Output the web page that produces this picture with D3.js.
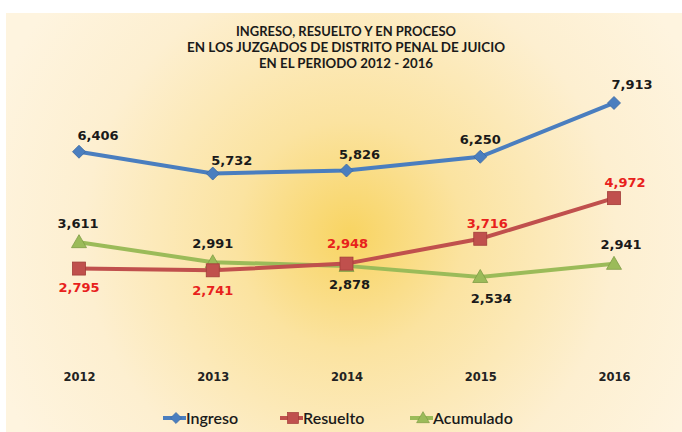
<!DOCTYPE html>
<html>
<head>
<meta charset="utf-8">
<script src="https://cdn.jsdelivr.net/npm/d3@7"></script>
<style>
  body { margin: 0; background: #fff; }
  svg { display: block; }
</style>
</head>
<body>
<div id="chart"></div>
<script>
var years = ["2012", "2013", "2014", "2015", "2016"];
var ingreso = [6406, 5732, 5826, 6250, 7913];
var resuelto = [2795, 2741, 2948, 3716, 4972];
var acumulado = [3611, 2991, 2878, 2534, 2941];
var titleLines = [
  "INGRESO, RESUELTO Y EN PROCESO",
  "EN LOS JUZGADOS DE DISTRITO PENAL DE JUICIO",
  "EN EL PERIODO 2012 - 2016"
];

// label placement, relative to each point
var ingresoOff = [[19, -16], [19, -13], [13, -16], [0, -17], [18, -19]];
var resueltoOff = [[0, 19], [0, 20], [1, -20], [7, -15], [11, -16]];
var acumuladoOff = [[-1, -19], [0, -19], [3, 19], [11, 21], [7, -19]];

var width = 682, height = 432;

var svg = d3.select("#chart").append("svg")
    .attr("width", width)
    .attr("height", height);

var defs = svg.append("defs");
var grad = defs.append("radialGradient")
    .attr("id", "bg")
    .attr("gradientUnits", "userSpaceOnUse")
    .attr("cx", 350).attr("cy", 235).attr("r", 380);
grad.append("stop").attr("offset", "0%").attr("stop-color", "#f8d462");
grad.append("stop").attr("offset", "30%").attr("stop-color", "#fbe3a0");
grad.append("stop").attr("offset", "70%").attr("stop-color", "#fdefd0");
grad.append("stop").attr("offset", "100%").attr("stop-color", "#fef4df");

svg.append("rect")
    .attr("x", 6).attr("y", 13)
    .attr("width", width - 6).attr("height", height - 13)
    .attr("fill", "url(#bg)");

svg.append("g").selectAll("text")
    .data(titleLines)
  .enter().append("text")
    .attr("x", 346)
    .attr("y", function(d, i) { return 36 + i * 16; })
    .attr("text-anchor", "middle")
    .attr("font-family", "Lato, 'Open Sans', sans-serif")
    .attr("font-weight", "bold")
    .attr("font-size", 12.5)
    .attr("fill", "#1a1a1a")
    .attr("textLength", function(d, i) { return [220, 318, 174][i]; })
    .attr("lengthAdjust", "spacingAndGlyphs")
    .text(function(d) { return d; });

var x = d3.scalePoint()
    .domain(years)
    .range([79, 614]);

var y = d3.scaleLinear()
    .domain([0, 9000])
    .range([359, 67.8]);

var xAxis = svg.append("g")
    .attr("transform", "translate(0,381)")
    .call(d3.axisBottom(x).tickSize(0).tickPadding(0));
xAxis.select(".domain").remove();
xAxis.selectAll("text")
    .attr("font-family", "'DejaVu Sans', Verdana, sans-serif")
    .attr("font-weight", "bold")
    .attr("font-size", 11.5)
    .attr("fill", "#222")
    .attr("dy", 0);

var series = [
  { name: "Ingreso", values: ingreso, off: ingresoOff, color: "#4a7ebf", labelColor: "#1a1a1a", shape: "diamond" },
  { name: "Resuelto", values: resuelto, off: resueltoOff, color: "#c0504d", labelColor: "#e8211c", shape: "square" },
  { name: "Acumulado", values: acumulado, off: acumuladoOff, color: "#9bbb59", labelColor: "#1a1a1a", shape: "triangle" }
];

var line = d3.line()
    .x(function(d, i) { return x(years[i]); })
    .y(function(d) { return y(d); });

function marker(sel, s) {
  if (s.shape === "diamond") {
    sel.append("path")
      .attr("d", "M0,-6.5L6.5,0L0,6.5L-6.5,0Z")
      .attr("fill", s.color).attr("stroke", "#3a68a3").attr("stroke-width", 0.8);
  } else if (s.shape === "square") {
    sel.append("rect")
      .attr("x", -6.5).attr("y", -6.5).attr("width", 13).attr("height", 13)
      .attr("fill", s.color).attr("stroke", "#a23c39").attr("stroke-width", 0.8);
  } else {
    sel.append("path")
      .attr("d", "M0,-7.5L7.5,5.5L-7.5,5.5Z")
      .attr("fill", s.color).attr("stroke", "#7f9c45").attr("stroke-width", 0.8);
  }
}

// draw order: acumulado under resuelto at crossing, ingreso on top
[series[2], series[1], series[0]].forEach(function(s) {
  var g = svg.append("g");
  g.append("path")
      .datum(s.values)
      .attr("d", line)
      .attr("fill", "none")
      .attr("stroke", s.color)
      .attr("stroke-width", 4);

  g.selectAll(".pt")
      .data(s.values)
    .enter().append("g")
      .attr("class", "pt")
      .attr("transform", function(d, i) { return "translate(" + x(years[i]) + "," + y(d) + ")"; })
      .each(function() { marker(d3.select(this), s); });
});

series.forEach(function(s) {
  svg.append("g").selectAll("text")
      .data(s.values)
    .enter().append("text")
      .attr("x", function(d, i) { return x(years[i]) + s.off[i][0]; })
      .attr("y", function(d, i) { return y(d) + s.off[i][1]; })
      .attr("dy", "0.35em")
      .attr("text-anchor", "middle")
      .attr("font-family", "'DejaVu Sans', Verdana, sans-serif")
      .attr("font-weight", "bold")
      .attr("font-size", 13)
      .attr("fill", s.labelColor)
      .text(function(d) { return d3.format(",")(d); });
});

// legend
var legendX = [163, 280, 410];
var legend = svg.append("g").selectAll("g")
    .data(series)
  .enter().append("g")
    .attr("transform", function(d, i) { return "translate(" + legendX[i] + ",418)"; });

legend.append("line")
    .attr("x1", 0).attr("x2", 23)
    .attr("stroke", function(d) { return d.color; })
    .attr("stroke-width", 4);

legend.append("g")
    .attr("transform", "translate(13,0) scale(0.85)")
    .each(function(d) { marker(d3.select(this), d); });

legend.append("text")
    .attr("x", 23)
    .attr("dy", "0.35em")
    .attr("font-family", "Lato, 'Open Sans', sans-serif")
    .attr("font-weight", 600)
    .attr("font-size", 16)
    .attr("fill", "#1a1a1a")
    .text(function(d) { return d.name; });
</script>
</body>
</html>
